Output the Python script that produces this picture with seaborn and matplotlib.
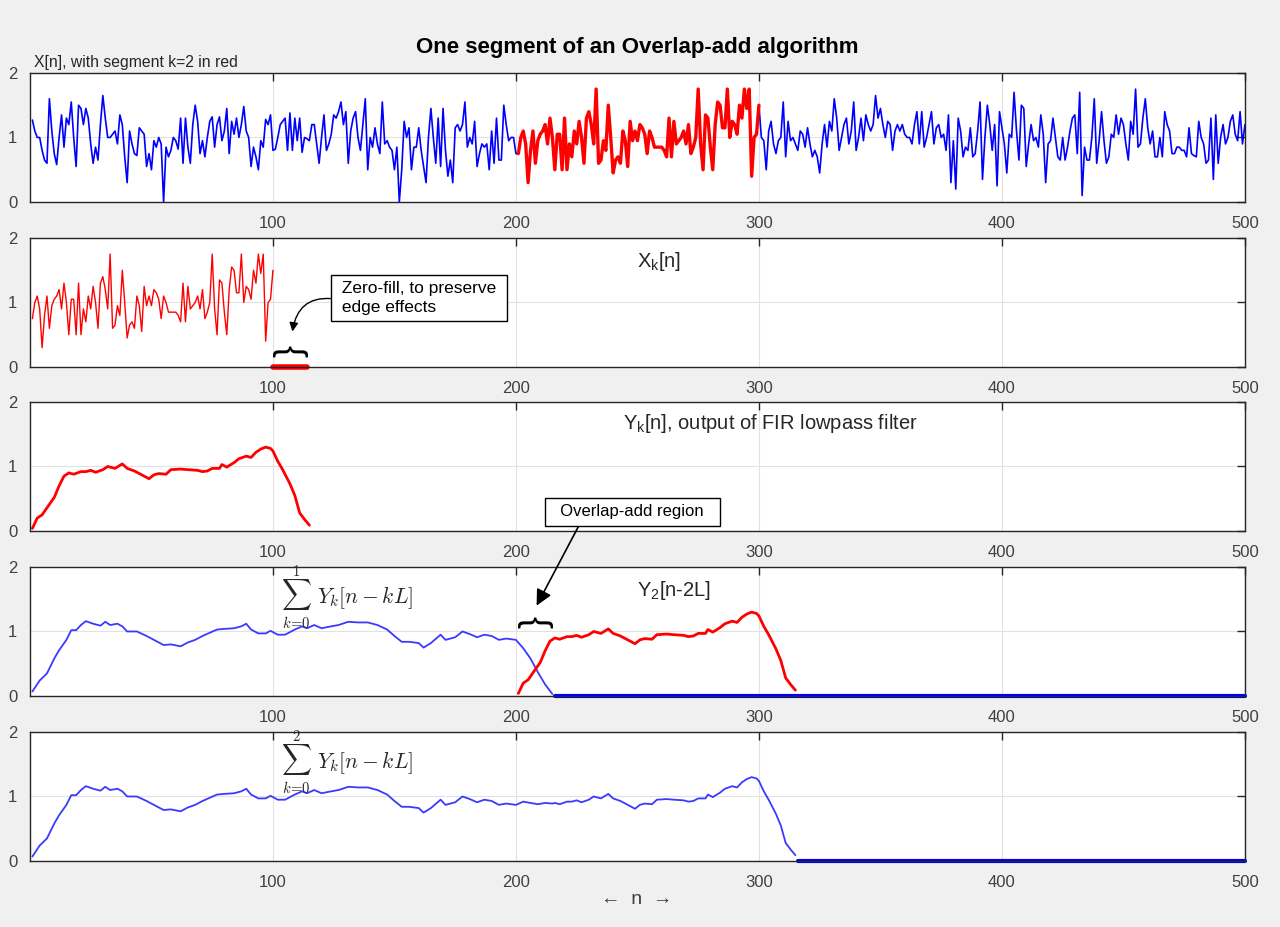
import numpy as np
import seaborn as sns
import matplotlib.pyplot as plt

# X[n], n = 1..500 in blocks of 100
x_a = [1.27, 1.1, 1.0, 1.0, 0.8, 0.65, 0.6, 1.6, 1.1, 0.75,
       0.58, 1.0, 1.35, 0.85, 1.3, 1.2, 1.55, 1.0, 0.55, 1.5,
       1.45, 1.2, 1.45, 1.3, 0.9, 0.6, 0.85, 0.65, 1.2, 1.65,
       1.3, 1.0, 1.0, 1.05, 1.1, 0.9, 1.35, 1.2, 0.7, 0.3,
       1.1, 0.9, 0.75, 0.72, 1.15, 1.1, 1.05, 0.55, 0.75, 0.5,
       0.95, 0.85, 1.0, 0.9, 0.0, 0.85, 0.7, 0.8, 1.0, 0.95,
       0.82, 1.3, 0.6, 1.3, 0.85, 0.6, 1.2, 1.5, 1.25, 0.75,
       0.95, 0.7, 1.0, 1.25, 1.32, 0.85, 1.2, 1.32, 0.95, 1.1,
       1.45, 0.75, 1.25, 1.05, 1.3, 1.0, 1.2, 1.48, 1.1, 1.0,
       0.55, 0.85, 0.7, 0.5, 0.95, 0.85, 1.28, 1.2, 1.35, 0.8]
x_b = [0.82, 1.0, 1.2, 1.25, 1.3, 0.8, 1.38, 0.8, 1.3, 0.95,
       1.3, 0.77, 1.0, 0.98, 0.95, 1.2, 1.2, 0.9, 0.6, 1.0,
       1.35, 0.8, 0.9, 1.05, 1.35, 1.3, 1.4, 1.55, 1.2, 1.4,
       0.6, 1.1, 1.3, 1.4, 1.0, 0.8, 1.2, 1.6, 0.5, 1.0,
       0.85, 1.15, 0.9, 0.75, 1.55, 0.9, 0.95, 0.85, 0.8, 0.5,
       0.85, 0.0, 0.5, 1.25, 1.0, 1.15, 0.5, 0.85, 0.85, 1.15,
       0.8, 0.55, 0.3, 1.0, 1.45, 1.0, 0.6, 1.3, 0.55, 1.45,
       0.8, 0.4, 0.65, 0.3, 1.15, 1.2, 1.1, 1.2, 1.55, 0.85,
       1.0, 0.9, 1.25, 0.55, 0.75, 0.9, 0.85, 0.9, 0.5, 1.1,
       0.6, 1.3, 0.65, 0.65, 1.5, 1.2, 0.95, 1.0, 1.0, 0.75]
# segment k=2 (n = 201..300), also shown alone as X_k[n]
x_seg = [0.75, 1.0, 1.1, 0.9, 0.3, 0.8, 1.1, 0.6, 0.95, 1.05,
         1.1, 1.2, 0.9, 1.3, 1.0, 0.5, 1.05, 1.05, 0.5, 1.3,
         0.5, 0.9, 0.7, 1.1, 0.9, 1.25, 1.0, 0.6, 1.3, 1.4,
         1.2, 0.9, 1.75, 0.6, 0.65, 0.95, 0.8, 1.5, 1.0, 0.45,
         0.65, 0.7, 0.6, 1.1, 0.95, 0.55, 1.25, 0.95, 1.1, 0.95,
         1.2, 1.15, 1.05, 0.75, 1.1, 1.0, 0.85, 0.85, 0.85, 0.85,
         0.8, 0.7, 1.3, 0.7, 1.25, 0.9, 0.95, 1.0, 1.1, 0.9,
         1.2, 0.75, 0.85, 1.0, 1.75, 0.9, 0.5, 1.35, 1.3, 0.85,
         0.5, 1.2, 1.55, 1.5, 1.15, 1.15, 1.75, 1.0, 1.25, 1.2,
         1.05, 1.5, 1.3, 1.75, 1.45, 1.75, 0.4, 1.0, 1.05, 1.5]
x_c = [1.0, 0.95, 0.5, 1.1, 1.25, 0.9, 0.75, 0.95, 1.0, 1.55,
       0.7, 1.25, 0.95, 1.0, 0.9, 0.8, 1.1, 1.05, 0.85, 1.15,
       0.9, 0.7, 0.8, 0.7, 0.45, 0.9, 1.2, 0.85, 1.25, 1.1,
       1.6, 1.3, 0.8, 1.0, 1.2, 1.3, 0.9, 1.1, 1.55, 0.8,
       1.0, 1.3, 0.95, 1.35, 1.2, 1.1, 1.2, 1.65, 1.3, 1.45,
       1.2, 1.0, 1.25, 1.2, 0.8, 1.1, 1.2, 1.1, 1.2, 1.05,
       1.0, 1.0, 0.9, 1.2, 1.4, 0.9, 1.4, 0.85, 1.0, 1.2,
       1.4, 0.9, 1.15, 1.2, 1.0, 1.05, 0.8, 1.35, 0.3, 0.95,
       0.2, 1.3, 1.1, 0.7, 0.85, 0.8, 1.15, 0.7, 0.75, 1.1,
       1.55, 0.35, 1.0, 1.5, 1.2, 0.8, 1.2, 0.25, 1.4, 1.15]
x_d = [0.9, 0.45, 1.05, 1.0, 1.7, 1.1, 0.65, 1.5, 1.45, 0.55,
       0.9, 1.2, 0.95, 1.0, 0.85, 1.35, 1.05, 0.3, 0.9, 0.95,
       1.3, 1.0, 0.7, 0.65, 1.0, 0.65, 0.85, 1.1, 1.3, 1.35,
       0.75, 1.7, 0.1, 0.85, 0.65, 0.65, 1.0, 1.6, 0.6, 0.95,
       1.4, 0.95, 0.6, 0.7, 1.05, 1.0, 1.35, 1.05, 1.3, 1.2,
       0.9, 0.65, 1.25, 1.05, 1.75, 0.85, 0.9, 1.3, 1.6, 1.15,
       0.9, 1.1, 0.7, 0.7, 1.0, 0.7, 1.4, 1.2, 1.1, 0.75,
       0.75, 0.85, 0.85, 0.8, 0.8, 0.7, 1.15, 0.75, 0.72, 0.7,
       1.25, 1.0, 0.9, 0.6, 0.65, 1.3, 0.35, 1.35, 0.6, 1.0,
       1.2, 0.9, 1.0, 1.25, 1.35, 1.05, 0.95, 1.4, 0.9, 1.2]

# Y_k[n], FIR output of the segment (n = 1..115)
yk_n = [1, 3, 5, 7, 10, 12, 14, 16, 18, 21, 23, 25, 27, 30, 32, 35, 38, 40, 43, 46,
        49, 51, 53, 56, 58, 62, 65, 69, 71, 73, 75, 78, 79, 81, 84, 86, 89, 91, 93, 95,
        97, 99, 100, 102, 104, 107, 109, 111, 113, 115]
yk_v = [0.04, 0.2, 0.25, 0.36, 0.52, 0.7, 0.85, 0.9, 0.88, 0.92, 0.92, 0.94, 0.91, 0.95, 1.0, 0.97, 1.04, 0.97, 0.93, 0.87,
        0.81, 0.87, 0.89, 0.88, 0.95, 0.96, 0.95, 0.94, 0.92, 0.93, 0.97, 0.97, 1.03, 0.99, 1.06, 1.12, 1.16, 1.14, 1.22, 1.27,
        1.3, 1.28, 1.24, 1.08, 0.95, 0.73, 0.55, 0.28, 0.18, 0.09]

# sum of Y_k[n-kL] for k = 0..1
s_n = [1, 4, 7, 10, 12, 15, 17, 19, 21, 23, 26, 29, 31, 33, 36, 38, 40, 44, 48, 51,
       53, 55, 58, 62, 65, 68, 71, 74, 77, 80, 84, 87, 89, 91, 94, 97, 99, 102, 105, 109,
       112, 114, 117, 120, 124, 127, 131, 135, 139, 143, 147, 150, 153, 156, 160, 162, 165, 169, 171, 175,
       178, 181, 184, 187, 190, 193, 196, 200, 203, 206, 209, 212, 215]
s_v = [0.07, 0.24, 0.35, 0.58, 0.71, 0.87, 1.02, 1.02, 1.1, 1.16, 1.12, 1.09, 1.15, 1.1, 1.12, 1.08, 1.0, 1.0, 0.93, 0.87,
       0.83, 0.79, 0.8, 0.77, 0.83, 0.87, 0.93, 0.98, 1.03, 1.04, 1.05, 1.08, 1.12, 1.03, 0.97, 0.97, 1.01, 0.95, 0.95, 1.03,
       1.08, 1.05, 1.1, 1.05, 1.08, 1.1, 1.15, 1.14, 1.14, 1.1, 1.03, 0.93, 0.84, 0.84, 0.82, 0.75, 0.82, 0.95, 0.87, 0.91,
       1.0, 0.96, 0.91, 0.95, 0.93, 0.87, 0.89, 0.87, 0.74, 0.58, 0.37, 0.18, 0.03]
# overlap-add region of the k = 0..2 sum
ov_n = [203, 206, 209, 212, 215]
ov_v = [0.92, 0.9, 0.88, 0.9, 0.89]

sns.set_theme(style='white')
plt.rcParams['font.family'] = ['Liberation Sans', 'DejaVu Sans']

BLUE = '#0000ff'
LBLUE = '#3a3aff'
RED = '#ff0000'
TXT = '#262626'

fig = plt.figure(figsize=(12.8, 9.27), dpi=100, facecolor='#f0f0f0')
bottoms = [0.7821, 0.6041, 0.4272, 0.2492, 0.0712]
axes = [fig.add_axes([0.0234, b, 0.9492, 0.1392]) for b in bottoms]
ax1, ax2, ax3, ax4, ax5 = axes


def sum_label(ax, top):
    # big sigma with limits, then the summand
    ax.text(109.5, 1.58, r'$\sum$', math_fontfamily='cm', fontsize=15, ha='center', va='center')
    ax.text(109.5, 1.93, top, math_fontfamily='cm', fontsize=10.5, ha='center', va='center')
    ax.text(109.5, 1.13, r'$k\!=\!0$', math_fontfamily='cm', fontsize=10.5, ha='center', va='center')
    ax.text(118, 1.53, r'$Y_k[n-kL]$', math_fontfamily='cm', fontsize=15.5, ha='left', va='center')


n = np.arange(1, 501)
x_all = np.array(x_a + x_b + x_seg + x_c + x_d)

# row 1
sns.lineplot(x=n[:201], y=x_all[:201], ax=ax1, color=BLUE, lw=1.2)
sns.lineplot(x=n[299:], y=x_all[299:], ax=ax1, color=BLUE, lw=1.2)
sns.lineplot(x=n[200:300], y=x_all[200:300], ax=ax1, color=RED, lw=2.4)
ax1.set_title('X[n], with segment k=2 in red', loc='left', x=0.003, fontsize=11.3, pad=4, color=TXT)

# row 2
sns.lineplot(x=np.arange(1, 101), y=x_seg, ax=ax2, color=RED, lw=1.0)
sns.lineplot(x=np.arange(100, 115), y=np.zeros(15), ax=ax2, color=RED, lw=4, clip_on=False)
ax2.text(250, 1.63, r'X$_\mathregular{k}$[n]', fontsize=14.5, va='center', color=TXT)
ax2.annotate(' Zero-fill, to preserve \n edge effects', xy=(108, 0.55), xytext=(160.1, 1.07),
             fontsize=12.5, ha='center', va='center', multialignment='left', linespacing=1.3,
             color='black',
             bbox=dict(boxstyle='square,pad=0.35', fc='white', ec='black', lw=1),
             arrowprops=dict(arrowstyle='-|>', color='black', lw=1, mutation_scale=13,
                             connectionstyle='arc3,rad=0.5', relpos=(0, 0.46),
                             shrinkA=0, shrinkB=0))
ax2.text(106.5, 0.25, '{', rotation=-90, fontsize=26, ha='center', va='center', color='black')

# row 3
sns.lineplot(x=yk_n, y=yk_v, ax=ax3, color=RED, lw=2)
ax3.text(244, 1.66, r'Y$_\mathregular{k}$[n], output of FIR lowpass filter', fontsize=14.5,
         va='center', color=TXT)

# row 4
sns.lineplot(x=s_n, y=s_v, ax=ax4, color=LBLUE, lw=1.3)
sns.lineplot(x=np.arange(216, 501), y=np.zeros(285), ax=ax4, color=BLUE, lw=3, clip_on=False)
sns.lineplot(x=[v + 200 for v in yk_n], y=yk_v, ax=ax4, color=RED, lw=2)
ax4.text(250, 1.64, r'Y$_\mathregular{2}$[n-2L]', fontsize=14.5, va='center', color=TXT)
sum_label(ax4, r'$1$')
ax4.text(207.5, 1.15, '{', rotation=-90, fontsize=26, ha='center', va='center', color='black')
ax4.annotate('  Overlap-add region  ', xy=(208.5, 1.4), xytext=(247.9, 0.295), textcoords=ax3.transData,
             fontsize=12, ha='center', va='center', color='black',
             bbox=dict(boxstyle='square,pad=0.4', fc='white', ec='black', lw=1),
             arrowprops=dict(arrowstyle='-|>', color='black', lw=1.2, mutation_scale=24,
                             relpos=(0.19, 0), shrinkA=0, shrinkB=0))

# row 5
k = s_n.index(200) + 1
n5 = s_n[:k] + ov_n + [v + 200 for v in yk_n if v > 15]
v5 = s_v[:k] + ov_v + [y for v, y in zip(yk_n, yk_v) if v > 15]
sns.lineplot(x=n5, y=v5, ax=ax5, color=LBLUE, lw=1.3)
sns.lineplot(x=np.arange(316, 501), y=np.zeros(185), ax=ax5, color=BLUE, lw=3, clip_on=False)
sum_label(ax5, r'$2$')

for ax in axes:
    ax.set_facecolor('white')
    ax.set_xlim(0, 500)
    ax.set_ylim(0, 2)
    ax.set_xticks([100, 200, 300, 400, 500])
    ax.set_yticks([0, 1, 2])
    ax.set_xlabel('')
    ax.set_ylabel('')
    ax.set_axisbelow(True)
    ax.grid(True, color='#e2e2e2', lw=0.8)
    ax.tick_params(direction='in', length=6, width=1, top=True, right=True,
                   labelsize=12, labelcolor='#404040', color=TXT)
    ax.tick_params(axis='x', pad=10)
    ax.tick_params(axis='y', pad=9)
    for sp in ax.spines.values():
        sp.set_color(TXT)
        sp.set_linewidth(1)

fig.suptitle('One segment of an Overlap-add algorithm', fontweight='bold', fontsize=16,
             x=0.4977, y=0.949, va='center', color='black')
fig.text(0.4977, 1 - 900 / 927, '←  n  →', ha='center', va='center', fontsize=14, color='#404040')

fig.savefig('out.png', dpi=100, facecolor=fig.get_facecolor())
